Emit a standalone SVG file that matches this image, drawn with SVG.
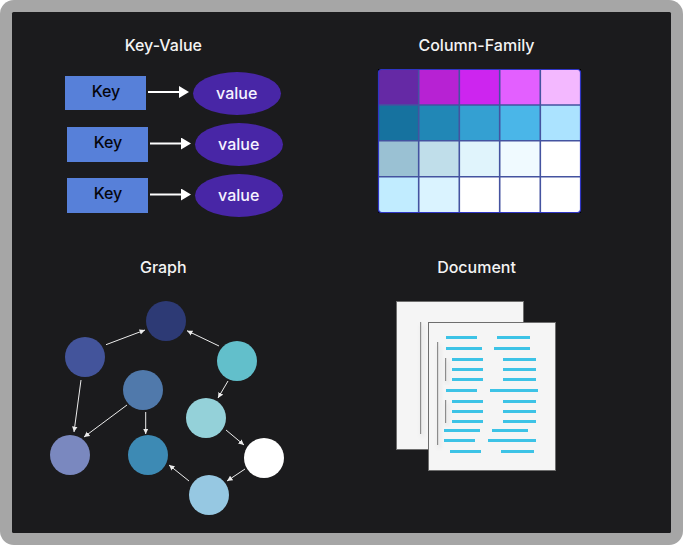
<svg xmlns="http://www.w3.org/2000/svg" width="683" height="545" viewBox="0 0 683 545">
  <style>
    text { font-family: Inter, "Liberation Sans", sans-serif; text-anchor: middle; }
    .title { font-size: 16px; font-weight: 500; fill: #f4f4f4; }
    .key { fill: #5780d9; }
    .key-label { font-size: 16px; font-weight: 500; fill: #05050c; }
    .val { fill: #4826a6; }
    .val-label { font-size: 16px; font-weight: 500; fill: #f6f2ff; }
    .kv { stroke: #ffffff; stroke-width: 2; fill: none; marker-end: url(#kvHead); }
    .edge { stroke: #ececec; stroke-width: 1; fill: none; marker-end: url(#edgeHead); }
    .sheet { fill: #f5f5f5; stroke: #6e6e6e; stroke-width: 1; }
    .rule { fill: #8c8c8c; filter: url(#soft); }
    .bar { fill: #3dc3e6; }
    .div { stroke: #4453a0; stroke-width: 1.6; }
  </style>
  <defs>
    <marker id="kvHead" markerUnits="userSpaceOnUse" markerWidth="10" markerHeight="12" refX="1" refY="6" orient="auto">
      <path d="M0 0L10 6L0 12z" fill="#ffffff"/>
    </marker>
    <marker id="edgeHead" markerUnits="userSpaceOnUse" markerWidth="6" markerHeight="6" refX="5.5" refY="3" orient="auto">
      <path d="M0 0.3L5.5 3L0 5.7z" fill="#ececec"/>
    </marker>
    <filter id="soft" x="-600%" y="-10%" width="1400%" height="125%">
      <feDropShadow dx="1.5" dy="3" stdDeviation="2" flood-color="#000000" flood-opacity="0.14"/>
    </filter>
    <clipPath id="tableClip"><rect x="378.5" y="69.5" width="202" height="143" rx="3"/></clipPath>
  </defs>

  <rect width="683" height="545" fill="#ffffff"/>
  <rect width="683" height="545" rx="14" fill="#a6a6a6"/>
  <rect x="12" y="12" width="659" height="521" rx="1.5" fill="#1b1b1d"/>

  <g id="key-value">
    <text class="title" x="163.3" y="51">Key-Value</text>
    <g id="kv-key-1"><rect class="key" x="65" y="76" width="81" height="34"/><text class="key-label" x="106" y="96.7">Key</text></g>
    <g id="kv-key-2"><rect class="key" x="67" y="127" width="81" height="35"/><text class="key-label" x="108" y="148">Key</text></g>
    <g id="kv-key-3"><rect class="key" x="67" y="178" width="81" height="35"/><text class="key-label" x="108" y="199">Key</text></g>
    <g id="kv-value-1"><ellipse class="val" cx="237" cy="93.5" rx="44" ry="21.5"/><text class="val-label" x="236.7" y="98.7">value</text></g>
    <g id="kv-value-2"><ellipse class="val" cx="239" cy="144.5" rx="44" ry="21.5"/><text class="val-label" x="238.7" y="149.7">value</text></g>
    <g id="kv-value-3"><ellipse class="val" cx="239" cy="195.5" rx="44" ry="21.5"/><text class="val-label" x="238.7" y="200.7">value</text></g>
  </g>

  <g id="column-family">
    <text class="title" x="476.5" y="50.7">Column-Family</text>
    <g fill="#000000">
      <rect x="378" y="69" width="3" height="3"/><rect x="578" y="69" width="3" height="3"/>
      <rect x="378" y="210" width="3" height="3"/><rect x="578" y="210" width="3" height="3"/>
    </g>
    <g clip-path="url(#tableClip)">
      <rect x="378" y="69" width="41" height="36" fill="#6529a5"/>
      <rect x="419" y="69" width="40" height="36" fill="#b722d3"/>
      <rect x="459" y="69" width="41" height="36" fill="#cd25ef"/>
      <rect x="500" y="69" width="40" height="36" fill="#e35fff"/>
      <rect x="540" y="69" width="41" height="36" fill="#f3b8ff"/>
      <rect x="378" y="105" width="41" height="36" fill="#16729f"/>
      <rect x="419" y="105" width="40" height="36" fill="#2187b6"/>
      <rect x="459" y="105" width="41" height="36" fill="#34a0d2"/>
      <rect x="500" y="105" width="40" height="36" fill="#4ab6e8"/>
      <rect x="540" y="105" width="41" height="36" fill="#abe3ff"/>
      <rect x="378" y="141" width="41" height="36" fill="#9ac1d3"/>
      <rect x="419" y="141" width="40" height="36" fill="#c0deea"/>
      <rect x="459" y="141" width="41" height="36" fill="#e0f4fc"/>
      <rect x="500" y="141" width="40" height="36" fill="#f0faff"/>
      <rect x="540" y="141" width="41" height="36" fill="#ffffff"/>
      <rect x="378" y="177" width="41" height="36" fill="#c1ecff"/>
      <rect x="419" y="177" width="40" height="36" fill="#daf3ff"/>
      <rect x="459" y="177" width="122" height="36" fill="#ffffff"/>
    </g>
    <path class="div" d="M418.7 69.5V212.5M459.3 69.5V212.5M499.7 69.5V212.5M540.3 69.5V212.5M378.5 105H580.5M378.5 140.8H580.5M378.5 176.7H580.5"/>
    <rect x="378.5" y="69.5" width="202" height="143" rx="3" fill="none" stroke="#2f35c4" stroke-width="1.2"/>
  </g>

  <g id="graph">
    <text class="title" x="163.3" y="272.7">Graph</text>
    <g id="g-top"><circle cx="166" cy="321" r="20" fill="#2d3a75"/></g>
    <g id="g-left"><circle cx="85" cy="357" r="20" fill="#43549b"/></g>
    <g id="g-center"><circle cx="143" cy="390" r="20" fill="#5079ab"/></g>
    <g id="g-right"><circle cx="237" cy="361" r="20" fill="#62bfcb"/></g>
    <g id="g-mid"><circle cx="206" cy="418" r="20" fill="#94d1d9"/></g>
    <g id="g-white"><circle cx="264" cy="458" r="20" fill="#ffffff"/></g>
    <g id="g-bottom"><circle cx="209" cy="495" r="20" fill="#96c8e2"/></g>
    <g id="g-teal"><circle cx="148" cy="455" r="20" fill="#3d8ab4"/></g>
    <g id="g-lilac"><circle cx="70" cy="455" r="20" fill="#7a88bf"/></g>
  </g>

  <g id="document">
    <text class="title" x="476.5" y="273">Document</text>
    <g id="doc-back">
      <rect class="sheet" x="396.5" y="301.5" width="127" height="148"/>
      <rect class="rule" x="420" y="322" width="1.2" height="112"/>
    </g>
    <g id="doc-front">
      <rect class="sheet" x="428.5" y="322.5" width="127" height="148"/>
      <rect class="rule" x="437" y="342" width="1.2" height="103"/>
      <rect class="rule" x="445" y="358" width="1.2" height="23"/>
      <rect class="rule" x="445" y="400" width="1.2" height="23"/>
      <g class="bar">
        <rect x="446" y="336" width="31" height="3"/><rect x="497" y="336" width="33" height="3"/>
        <rect x="446" y="347" width="36" height="3"/><rect x="494" y="347" width="36" height="3"/>
        <rect x="452" y="358" width="31" height="3"/><rect x="503" y="358" width="33" height="3"/>
        <rect x="452" y="368" width="31" height="3"/><rect x="503" y="368" width="33" height="3"/>
        <rect x="452" y="378" width="31" height="3"/><rect x="503" y="378" width="33" height="3"/>
        <rect x="446" y="389" width="31" height="3"/><rect x="490" y="389" width="48" height="3"/>
        <rect x="452" y="400" width="31" height="3"/><rect x="503" y="400" width="33" height="3"/>
        <rect x="452" y="410" width="31" height="3"/><rect x="503" y="410" width="33" height="3"/>
        <rect x="452" y="420" width="31" height="3"/><rect x="503" y="420" width="33" height="3"/>
        <rect x="444" y="429" width="36" height="3"/><rect x="492" y="429" width="36" height="3"/>
        <rect x="444" y="439" width="31" height="3"/><rect x="488" y="439" width="48" height="3"/>
        <rect x="450" y="450" width="31" height="3"/><rect x="501" y="450" width="33" height="3"/>
      </g>
    </g>
  </g>

  <g id="connectors">
    <path class="kv" d="M148 92H180"/>
    <path class="kv" d="M150 143.5H182"/>
    <path class="kv" d="M150 194.5H182"/>
    <path class="edge" d="M106 344.7L145 330"/>
    <path class="edge" d="M219 346L187 330.7"/>
    <path class="edge" d="M228 381L218 398"/>
    <path class="edge" d="M226 430L244 445"/>
    <path class="edge" d="M245 469L227 481"/>
    <path class="edge" d="M189 481L169 465"/>
    <path class="edge" d="M145.7 412V434"/>
    <path class="edge" d="M127 405L84 437"/>
    <path class="edge" d="M81 380L74 432"/>
  </g>
</svg>
